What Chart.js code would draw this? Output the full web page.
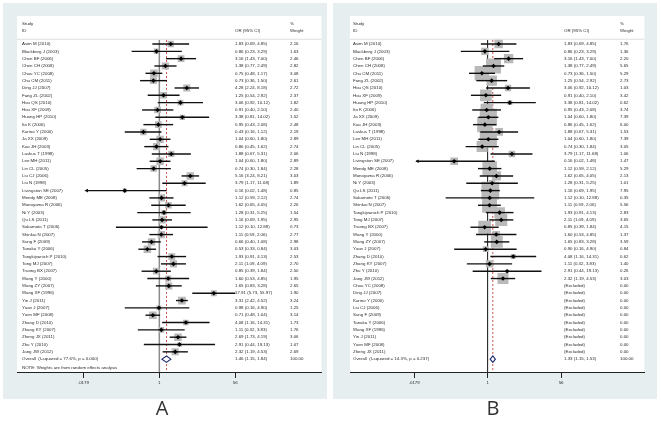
<!DOCTYPE html>
<html>
<head>
<meta charset="utf-8">
<script src="https://cdn.jsdelivr.net/npm/chart.js@4.4.1/dist/chart.umd.min.js"></script>
<style>
  body { margin: 0; background: #fff; width: 661px; height: 421px; overflow: hidden; position: relative; }
  .panel { position: absolute; top: 3px; width: 324px; height: 396px; background: #e7eef0; }
  #panelA { left: 3px; }
  #panelB { left: 333px; }
  .letter { position: absolute; top: 397px; width: 40px; text-align: center; font-family: "Open Sans", sans-serif; font-size: 20px; line-height: 22px; color: #333; }
</style>
</head>
<body>
<div class="panel" id="panelA"><canvas id="chartA" width="324" height="396"></canvas></div>
<div class="panel" id="panelB"><canvas id="chartB" width="324" height="396"></canvas></div>
<div class="letter" style="left:142px">A</div>
<div class="letter" style="left:473px">B</div>
<script>
// ---------- data ----------
const TICK_VALUES = [0.0179, 1, 56];
const TICK_LABELS = ['.0179', '1', '56'];

// panel A: all studies, random effects
const A_STUDIES = ['Asim M (2010)', 'Blackberg J (2003)', 'Chen BF (2006)', 'Chen CH (2008)', 'Chou YC (2008)',
  'Chu CM (2011)', 'Ding JJ (2007)', 'Fang ZL (2002)', 'Hou QS (2010)', 'Hou XF (2009)', 'Huang HP (2010)',
  'Ito K (2006)', 'Karino Y (2000)', 'Ja XX (2009)', 'Kao JH (2003)', 'Laskus T (1998)', 'Lee MH (2011)',
  'Lin CL (2005)', 'Liu CJ (2006)', 'Liu N (1998)', 'Livingston SE (2007)', 'Mendy ME (2008)',
  'Munoyama R (2006)', 'Ni Y (2003)', 'Qu LS (2011)', 'Sakamoto T (2006)', 'Shinkai N (2007)',
  'Sung F (2009)', 'Tanaka Y (2006)', 'Tangkijvanich P (2010)', 'Tong MJ (2007)', 'Truong BX (2007)',
  'Wang Y (2000)', 'Wang ZY (2007)', 'Wang XF (1996)', 'Yin J (2011)', 'Yuan J (2007)', 'Yuen MF (2008)',
  'Zhang D (2010)', 'Zhang KY (2007)', 'Zheng JX (2011)', 'Zhu Y (2010)', 'Jang JW (2012)'];
const A_OR = [1.83, 0.86, 3.16, 1.38, 0.75, 0.73, 4.28, 1.25, 3.06, 0.91, 3.38, 0.95, 0.43, 1.04, 0.86, 1.88,
  1.04, 0.74, 5.16, 3.79, 0.16, 1.12, 1.62, 1.28, 1.16, 1.12, 1.11, 0.66, 0.53, 1.93, 2.11, 0.85, 1.60, 1.65,
  17.91, 3.31, 0.98, 0.71, 4.08, 1.11, 2.69, 2.91, 2.32];
const A_LO = [0.69, 0.23, 1.43, 0.77, 0.48, 0.36, 2.24, 0.54, 0.92, 0.40, 0.81, 0.43, 0.16, 0.60, 0.45, 0.67,
  0.60, 0.30, 3.24, 1.17, 0.02, 0.59, 0.65, 0.31, 0.69, 0.10, 0.59, 0.40, 0.33, 0.91, 1.09, 0.39, 0.53, 0.83,
  5.73, 2.42, 0.16, 0.48, 1.16, 0.32, 1.73, 0.44, 1.19];
const A_HI = [4.85, 3.29, 7.00, 2.49, 1.17, 1.50, 8.18, 2.92, 10.12, 2.10, 14.02, 2.08, 1.12, 1.80, 1.62, 5.31,
  1.80, 1.84, 8.21, 11.68, 1.48, 2.12, 4.05, 5.25, 1.95, 12.88, 2.06, 1.08, 0.84, 4.13, 4.09, 1.84, 4.85, 3.28,
  55.97, 4.52, 4.90, 1.04, 14.31, 3.83, 4.19, 19.13, 4.53];
const A_WEIGHT = [2.16, 1.63, 2.46, 2.82, 3.08, 2.61, 2.72, 2.37, 1.82, 2.40, 1.52, 2.48, 2.19, 2.89, 2.74, 2.06,
  2.89, 2.28, 3.03, 1.89, 0.85, 2.74, 2.26, 1.54, 2.95, 0.73, 2.77, 2.98, 3.03, 2.53, 2.70, 2.50, 1.95, 2.65,
  1.90, 3.24, 1.25, 3.14, 1.73, 1.76, 3.06, 1.07, 2.69];
const A_OVERALL = [1.46, 1.15, 1.84];
const A_OVERALL_LABEL = 'Overall  (I-squared = 77.6%, p = 0.000)';
const A_NOTE = 'NOTE: Weights are from random effects analysis';

// panel B: sensitivity analysis, excluded studies at the end
const B_STUDIES = ['Asim M (2010)', 'Blackberg J (2003)', 'Chen BF (2006)', 'Chen CH (2008)', 'Chu CM (2011)',
  'Fang ZL (2002)', 'Hou QS (2010)', 'Hou XF (2009)', 'Huang HP (2010)', 'Ito K (2006)', 'Ja XX (2009)',
  'Kao JH (2003)', 'Laskus T (1998)', 'Lee MH (2011)', 'Lin CL (2005)', 'Liu N (1998)', 'Livingston SE (2007)',
  'Mendy ME (2008)', 'Munoyama R (2006)', 'Ni Y (2003)', 'Qu LS (2011)', 'Sakamoto T (2006)', 'Shinkai N (2007)',
  'Tangkijvanich P (2010)', 'Tong MJ (2007)', 'Truong BX (2007)', 'Wang Y (2000)', 'Wang ZY (2007)',
  'Yuan J (2007)', 'Zhang D (2010)', 'Zhang KY (2007)', 'Zhu Y (2010)', 'Jang JW (2012)', 'Chou YC (2008)',
  'Ding JJ (2007)', 'Karino Y (2000)', 'Liu CJ (2006)', 'Sung F (2009)', 'Tanaka Y (2006)', 'Wang XF (1996)',
  'Yin J (2011)', 'Yuen MF (2008)', 'Zheng JX (2011)'];
const B_OR = [1.83, 0.86, 3.16, 1.38, 0.73, 1.25, 3.06, 0.91, 3.38, 0.95, 1.04, 0.86, 1.88, 1.04, 0.74, 3.79,
  0.16, 1.12, 1.62, 1.28, 1.16, 1.12, 1.11, 1.93, 2.11, 0.85, 1.60, 1.65, 0.90, 4.08, 1.11, 2.91, 2.32,
  null, null, null, null, null, null, null, null, null, null];
const B_LO = [0.69, 0.23, 1.43, 0.77, 0.36, 0.54, 0.92, 0.40, 0.81, 0.43, 0.60, 0.45, 0.67, 0.60, 0.30, 1.17,
  0.02, 0.59, 0.65, 0.31, 0.69, 0.10, 0.59, 0.91, 1.09, 0.39, 0.53, 0.83, 0.16, 1.16, 0.32, 0.44, 1.19,
  null, null, null, null, null, null, null, null, null, null];
const B_HI = [4.85, 3.29, 7.00, 2.49, 1.50, 2.92, 10.12, 2.10, 14.02, 2.08, 1.80, 1.62, 5.31, 1.80, 1.84, 11.68,
  1.48, 2.12, 4.05, 5.25, 1.95, 12.88, 2.06, 4.13, 4.09, 1.84, 4.85, 3.28, 4.90, 14.31, 3.83, 19.13, 4.53,
  null, null, null, null, null, null, null, null, null, null];
const B_WEIGHT = [1.76, 1.36, 2.20, 5.65, 5.29, 2.73, 1.03, 3.42, 0.62, 3.74, 7.39, 6.00, 1.53, 7.39, 3.05, 1.06,
  1.47, 5.29, 2.13, 1.01, 7.95, 0.35, 5.56, 2.83, 3.65, 4.15, 1.37, 3.59, 0.84, 0.62, 1.40, 0.26, 3.03,
  0, 0, 0, 0, 0, 0, 0, 0, 0, 0];
const B_OVERALL = [1.33, 1.15, 1.53];
const B_OVERALL_LABEL = 'Overall  (I-squared = 14.3%, p = 0.237)';
const B_NOTE = '';

// ---------- drawing ----------
const FONT = '4.4px "Liberation Sans", Arial, sans-serif';
const TEXT_COLOR = '#2b2b2b';

function orText(or, lo, hi) {
  if (or == null) return '(Excluded)';
  return `${or.toFixed(2)} (${lo.toFixed(2)}, ${hi.toFixed(2)})`;
}

function makeForestPlugin(d, look) {
  return {
    id: 'forest',
    beforeDraw(chart) {
      const { ctx, chartArea: a } = chart;
      ctx.save();
      ctx.fillStyle = '#fff';
      ctx.fillRect(a.left, a.top, a.right - a.left, a.bottom - a.top);
      ctx.restore();
    },
    beforeDatasetsDraw(chart) {
      const { ctx, chartArea: a, scales: { x, y } } = chart;
      const n = d.studies.length;
      ctx.save();
      // header
      ctx.font = FONT;
      ctx.fillStyle = TEXT_COLOR;
      ctx.textBaseline = 'middle';
      ctx.fillText('Study', a.left + look.col.label, y.getPixelForValue(-2.7));
      ctx.fillText('ID', a.left + look.col.label, y.getPixelForValue(-1.75));
      ctx.fillText('OR (95% CI)', a.left + look.col.or, y.getPixelForValue(-1.75));
      ctx.fillText('%', a.left + look.col.weight, y.getPixelForValue(-2.7));
      ctx.fillText('Weight', a.left + look.col.weight, y.getPixelForValue(-1.75));
      ctx.strokeStyle = '#d4d4d4';
      ctx.lineWidth = 0.8;
      ctx.beginPath();
      ctx.moveTo(a.left, y.getPixelForValue(-0.65));
      ctx.lineTo(a.right, y.getPixelForValue(-0.65));
      ctx.stroke();

      // rows
      d.studies.forEach((s, i) => {
        const py = y.getPixelForValue(i);
        ctx.fillText(s, a.left + look.col.label, py);
        ctx.fillText(orText(d.or[i], d.lo[i], d.hi[i]), a.left + look.col.or, py);
        ctx.fillText(d.weight[i].toFixed(2), a.left + look.col.weight, py);
      });
      const oy = y.getPixelForValue(n);
      ctx.fillText(d.overallLabel, a.left + look.col.label, oy);
      ctx.fillText(orText(d.overall[0], d.overall[1], d.overall[2]), a.left + look.col.or, oy);
      ctx.fillText('100.00', a.left + look.col.weight, oy);
      if (d.note) ctx.fillText(d.note, a.left + look.col.label, y.getPixelForValue(n + 1.2));

      // reference line at 1 and dashed line at the pooled estimate
      const top = y.getPixelForValue(-0.55);
      ctx.strokeStyle = look.refColor;
      ctx.lineWidth = look.refWidth;
      ctx.beginPath();
      ctx.moveTo(x.getPixelForValue(1), top);
      ctx.lineTo(x.getPixelForValue(1), a.bottom);
      ctx.stroke();
      ctx.strokeStyle = '#c8403a';
      ctx.lineWidth = 0.9;
      ctx.setLineDash([2, 2]);
      ctx.beginPath();
      ctx.moveTo(x.getPixelForValue(d.overall[0]), top);
      ctx.lineTo(x.getPixelForValue(d.overall[0]), a.bottom);
      ctx.stroke();
      ctx.restore();
    },
    afterDatasetDraw(chart, args) {
      if (args.index !== 0) return;
      // confidence intervals over the weight boxes
      const { ctx, scales: { x, y } } = chart;
      const xmin = TICK_VALUES[0], xmax = TICK_VALUES[TICK_VALUES.length - 1];
      ctx.save();
      ctx.strokeStyle = '#111';
      ctx.fillStyle = '#111';
      ctx.lineWidth = 1.4;
      d.or.forEach((v, i) => {
        if (v == null) return;
        const py = y.getPixelForValue(i);
        const x1 = x.getPixelForValue(Math.max(d.lo[i], xmin));
        const x2 = x.getPixelForValue(Math.min(d.hi[i], xmax));
        ctx.beginPath();
        ctx.moveTo(x1, py);
        ctx.lineTo(x2, py);
        ctx.stroke();
        if (d.lo[i] < xmin * 1.15) {
          ctx.beginPath();
          ctx.moveTo(x1 - 1, py);
          ctx.lineTo(x1 + 2.5, py - 1.8);
          ctx.lineTo(x1 + 2.5, py + 1.8);
          ctx.closePath();
          ctx.fill();
        }
      });
      ctx.restore();
    },
    afterDatasetsDraw(chart) {
      // pooled diamond
      const { ctx, scales: { x, y } } = chart;
      const py = y.getPixelForValue(d.studies.length);
      const h = 3.2;
      ctx.save();
      ctx.fillStyle = '#fff';
      ctx.strokeStyle = '#1d2a6e';
      ctx.lineWidth = 1.1;
      ctx.beginPath();
      ctx.moveTo(x.getPixelForValue(d.overall[1]), py);
      ctx.lineTo(x.getPixelForValue(d.overall[0]), py - h);
      ctx.lineTo(x.getPixelForValue(d.overall[2]), py);
      ctx.lineTo(x.getPixelForValue(d.overall[0]), py + h);
      ctx.closePath();
      ctx.fill();
      ctx.stroke();
      ctx.restore();
    }
  };
}

function buildForest(canvasId, d, look) {
  const boxes = [];
  const points = [];
  d.or.forEach((v, i) => {
    if (v == null) return;
    boxes.push({ x: v, y: i, w: d.weight[i] });
    points.push({ x: v, y: i });
  });
  const boxRadius = c => look.boxScale * Math.sqrt(c.raw.w) / Math.SQRT2;
  const ctx = document.getElementById(canvasId).getContext('2d');
  return new Chart(ctx, {
    type: 'scatter',
    data: {
      datasets: [
        {
          label: 'weight',
          data: boxes,
          order: 2,
          pointStyle: 'rect',
          backgroundColor: '#b9b9b9',
          borderWidth: 0,
          pointRadius: boxRadius,
          pointHoverRadius: boxRadius
        },
        {
          label: 'OR',
          data: points,
          order: 1,
          pointStyle: 'rectRot',
          backgroundColor: '#000',
          borderWidth: 0,
          pointRadius: 2.3,
          pointHoverRadius: 2.3
        }
      ]
    },
    options: {
      responsive: false,
      animation: false,
      devicePixelRatio: 1,
      layout: { padding: look.padding },
      plugins: { legend: { display: false }, tooltip: { enabled: false } },
      scales: {
        x: {
          type: 'logarithmic',
          min: 5.3e-4,
          max: 5400,
          afterBuildTicks: s => { s.ticks = TICK_VALUES.map(v => ({ value: v })); },
          afterFit: s => { s.height = 27; },
          ticks: {
            callback: (v, i) => TICK_LABELS[i],
            font: { family: '"Liberation Sans", Arial, sans-serif', size: 4.4 },
            color: TEXT_COLOR,
            padding: 2,
            autoSkip: false,
            maxRotation: 0
          },
          grid: { drawOnChartArea: false, drawTicks: true, tickLength: 6, color: '#222', lineWidth: 1 },
          border: { display: true, color: '#222', width: 1 }
        },
        y: {
          type: 'linear',
          reverse: true,
          min: -3.82,
          max: 44.75,
          display: false
        }
      }
    },
    plugins: [makeForestPlugin(d, look)]
  });
}

buildForest('chartA', {
  studies: A_STUDIES, or: A_OR, lo: A_LO, hi: A_HI, weight: A_WEIGHT,
  overall: A_OVERALL, overallLabel: A_OVERALL_LABEL, note: A_NOTE
}, {
  padding: { left: 14, top: 13, right: 4, bottom: 0 },
  boxScale: 4.3,
  refColor: '#8a8a8a',
  refWidth: 1.5,
  col: { label: 5, or: 218, weight: 273 }
});

buildForest('chartB', {
  studies: B_STUDIES, or: B_OR, lo: B_LO, hi: B_HI, weight: B_WEIGHT,
  overall: B_OVERALL, overallLabel: B_OVERALL_LABEL, note: B_NOTE
}, {
  padding: { left: 17, top: 13, right: 10, bottom: 0 },
  boxScale: 6.3,
  refColor: '#111',
  refWidth: 1,
  col: { label: 3, or: 214, weight: 270 }
});
</script>
</body>
</html>
